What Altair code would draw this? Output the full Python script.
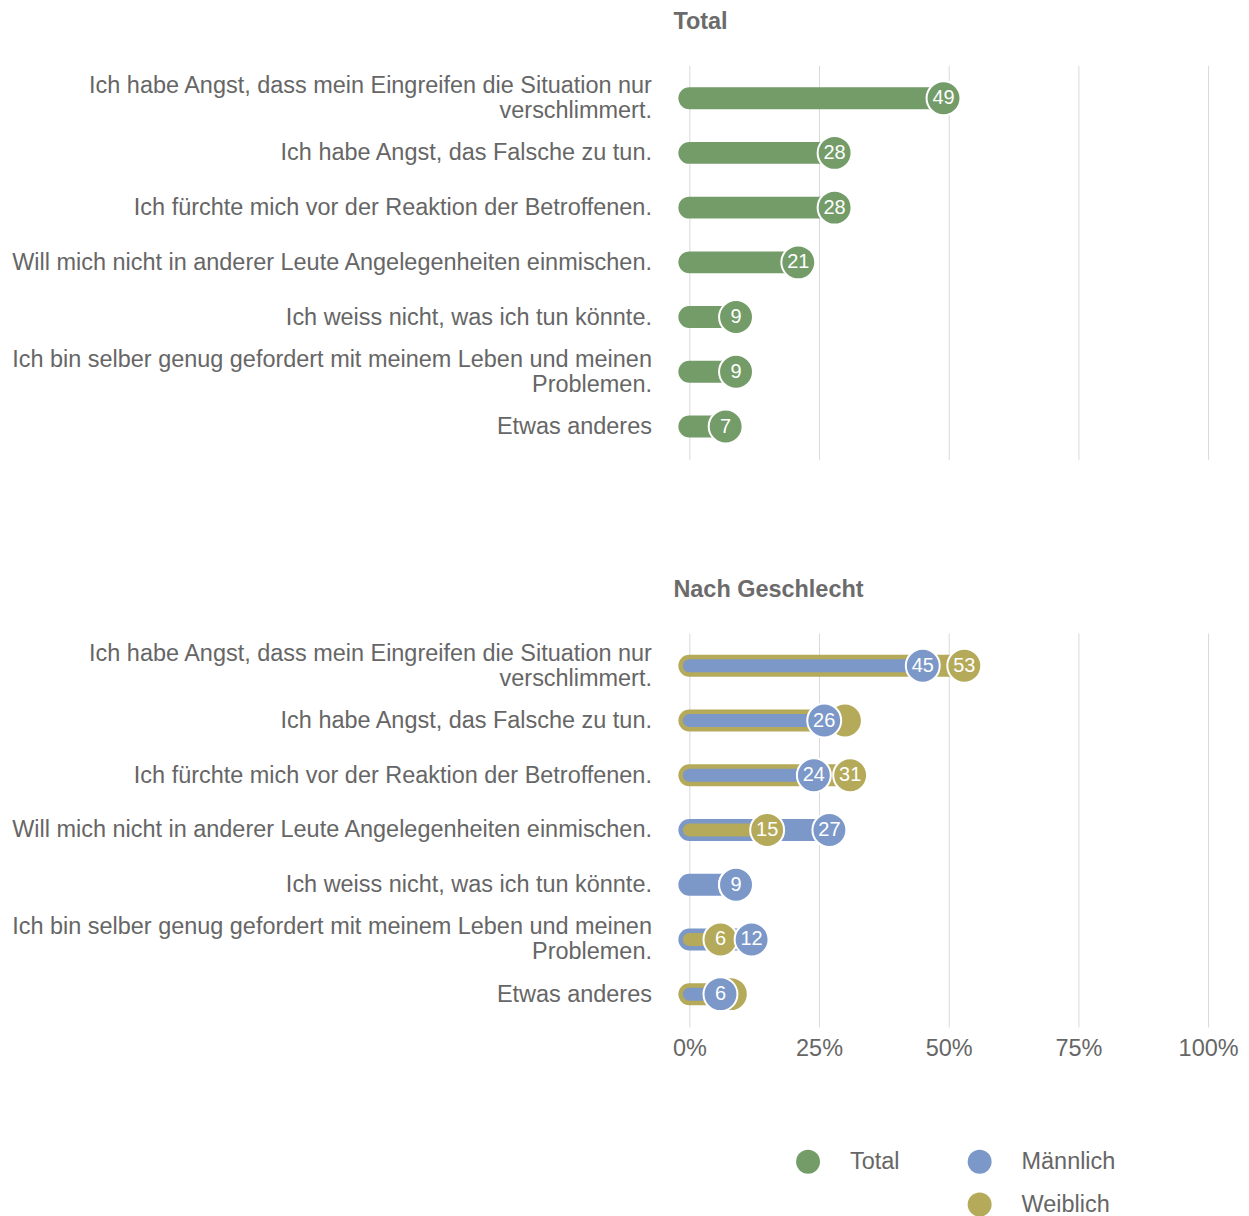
import altair as alt
import pandas as pd

questions = [
    "Ich habe Angst, dass mein Eingreifen die Situation nur\nverschlimmert.",
    "Ich habe Angst, das Falsche zu tun.",
    "Ich fürchte mich vor der Reaktion der Betroffenen.",
    "Will mich nicht in anderer Leute Angelegenheiten einmischen.",
    "Ich weiss nicht, was ich tun könnte.",
    "Ich bin selber genug gefordert mit meinem Leben und meinen\nProblemen.",
    "Etwas anderes",
]
total = [49, 28, 28, 21, 9, 9, 7]
maennlich = [45, 26, 24, 27, 9, 12, 6]
weiblich = [53, 30, 31, 15, 9, 6, 8]
series_names = ["Total", "Männlich", "Weiblich"]
series_colors = ["#739c68", "#7b98c9", "#b4aa5a"]
tick_values = [0, 25, 50, 75, 100]

FONT = "Liberation Sans"
TEXT_COLOR = "#666666"
GRID_COLOR = "#d9d9d9"
FS = 23.5

# ---- data frames built from the arrays ----
top_df = pd.DataFrame({"question": questions, "series": "Total", "value": total})

rows = []
bars = []
for q, m, w in zip(questions, maennlich, weiblich):
    rows.append({"question": q, "series": "Männlich", "value": m, "show": True})
    rows.append({"question": q, "series": "Weiblich", "value": w, "show": abs(w - m) >= 5})
    if w > m:
        bars.append({"question": q, "long_val": w, "long_series": "Weiblich",
                     "short_val": m, "short_series": "Männlich"})
    elif m > w:
        bars.append({"question": q, "long_val": m, "long_series": "Männlich",
                     "short_val": w, "short_series": "Weiblich"})
    else:
        bars.append({"question": q, "long_val": m, "long_series": "Männlich",
                     "short_val": m, "short_series": "Männlich"})
bottom_df = pd.DataFrame(rows)
bars_df = pd.DataFrame(bars)


def cscale(names=series_names):
    return alt.Scale(domain=names,
                     range=[series_colors[series_names.index(n)] for n in names])


def legend(x, y):
    return alt.Legend(
        title=None, orient="none", legendX=x, legendY=y,
        direction="vertical", symbolType="circle",
        symbolSize=576, symbolStrokeWidth=0, symbolOpacity=1,
        labelFontSize=FS, labelFont=FONT,
        labelColor=TEXT_COLOR, labelOffset=30, rowPadding=19,
    )


y_enc = alt.Y(
    "question:N",
    sort=questions,
    scale=alt.Scale(type="point", padding=0.6),
    axis=alt.Axis(
        title=None, domain=False, ticks=False, tickSize=0, grid=False,
        labelPadding=38, labelFontSize=FS, labelColor=TEXT_COLOR, labelFont=FONT,
        labelLimit=900, labelLineHeight=25,
        labelExpr="split(datum.label, '\\n')",
        labelOffset={"condition": {"test": "indexof(datum.value, '\\n') >= 0",
                                   "value": -12.5}, "value": 0},
    ),
)


def x_enc(field, show_labels):
    return alt.X(
        field,
        scale=alt.Scale(domain=[0, 100], nice=False),
        axis=alt.Axis(
            title=None, values=tick_values, grid=True, gridColor=GRID_COLOR,
            gridWidth=1, domain=False, ticks=False, tickSize=0,
            labels=show_labels, labelExpr="datum.value + '%'",
            labelFontSize=FS, labelColor=TEXT_COLOR, labelFont=FONT,
            labelPadding=10, labelFlush=False, labelOverlap=False,
        ),
    )


def panel_title(text):
    return alt.TitleParams(
        text, anchor="start", frame="group", dx=-16, fontSize=FS,
        fontWeight="bold", color="#6b6b6b", font=FONT, offset=32,
    )


# ---- top panel ----
top_base = alt.Chart(top_df)
top_rule = top_base.mark_rule(strokeWidth=22, strokeCap="round").encode(
    y=y_enc,
    x=x_enc("value:Q", False),
    x2=alt.datum(0),
    stroke=alt.Stroke("series:N", scale=cscale(), legend=None),
)
top_circle = top_base.mark_circle(size=1156, opacity=1, stroke="white", strokeWidth=2).encode(
    y=y_enc,
    x=x_enc("value:Q", False),
    color=alt.Color("series:N", scale=cscale(["Total"]), legend=legend(107, 1087)),
)
top_text = top_base.mark_text(fontSize=20, color="white", font=FONT).encode(
    y=y_enc,
    x=x_enc("value:Q", False),
    text="value:Q",
)
top = alt.layer(top_rule, top_circle, top_text).properties(
    width=520, height=395, title=panel_title("Total")
)

# ---- bottom panel ----
bars_base = alt.Chart(bars_df)
long_rule = bars_base.mark_rule(strokeWidth=22, strokeCap="round").encode(
    y=y_enc,
    x=x_enc("long_val:Q", True),
    x2=alt.datum(0),
    stroke=alt.Stroke("long_series:N", scale=cscale(), legend=None),
)
short_rule = bars_base.mark_rule(strokeWidth=13, strokeCap="round").encode(
    y=y_enc,
    x=x_enc("short_val:Q", True),
    x2=alt.datum(0),
    stroke=alt.Stroke("short_series:N", scale=cscale(), legend=None),
)
gender_names = ["Männlich", "Weiblich"]
pts_base = alt.Chart(bottom_df)
w_circle = pts_base.transform_filter(alt.datum.series == "Weiblich").mark_circle(
    size=1156, opacity=1, stroke="white", strokeWidth=2
).encode(
    y=y_enc,
    x=x_enc("value:Q", True),
    fill=alt.Fill("series:N", scale=cscale(gender_names), legend=legend(279, 1087)),
)
w_text = pts_base.transform_filter(
    (alt.datum.series == "Weiblich") & alt.datum.show
).mark_text(fontSize=20, color="white", font=FONT).encode(
    y=y_enc,
    x=x_enc("value:Q", True),
    text="value:Q",
)
m_circle = pts_base.transform_filter(alt.datum.series == "Männlich").mark_circle(
    size=1156, opacity=1, stroke="white", strokeWidth=2
).encode(
    y=y_enc,
    x=x_enc("value:Q", True),
    fill=alt.Fill("series:N", scale=cscale(gender_names), legend=legend(279, 1087)),
)
m_text = pts_base.transform_filter(alt.datum.series == "Männlich").mark_text(
    fontSize=20, color="white", font=FONT
).encode(
    y=y_enc,
    x=x_enc("value:Q", True),
    text="value:Q",
)
bottom = alt.layer(long_rule, short_rule, w_circle, w_text, m_circle, m_text).properties(
    width=520, height=395, title=panel_title("Nach Geschlecht")
)

chart = (
    alt.vconcat(top, bottom, spacing=118)
    .properties(padding={"left": 2, "top": 0, "right": 2, "bottom": 2})
    .configure(font=FONT)
    .configure_view(stroke=None)
)

chart.save("out.html", embed_options={"renderer": "svg", "actions": False})
